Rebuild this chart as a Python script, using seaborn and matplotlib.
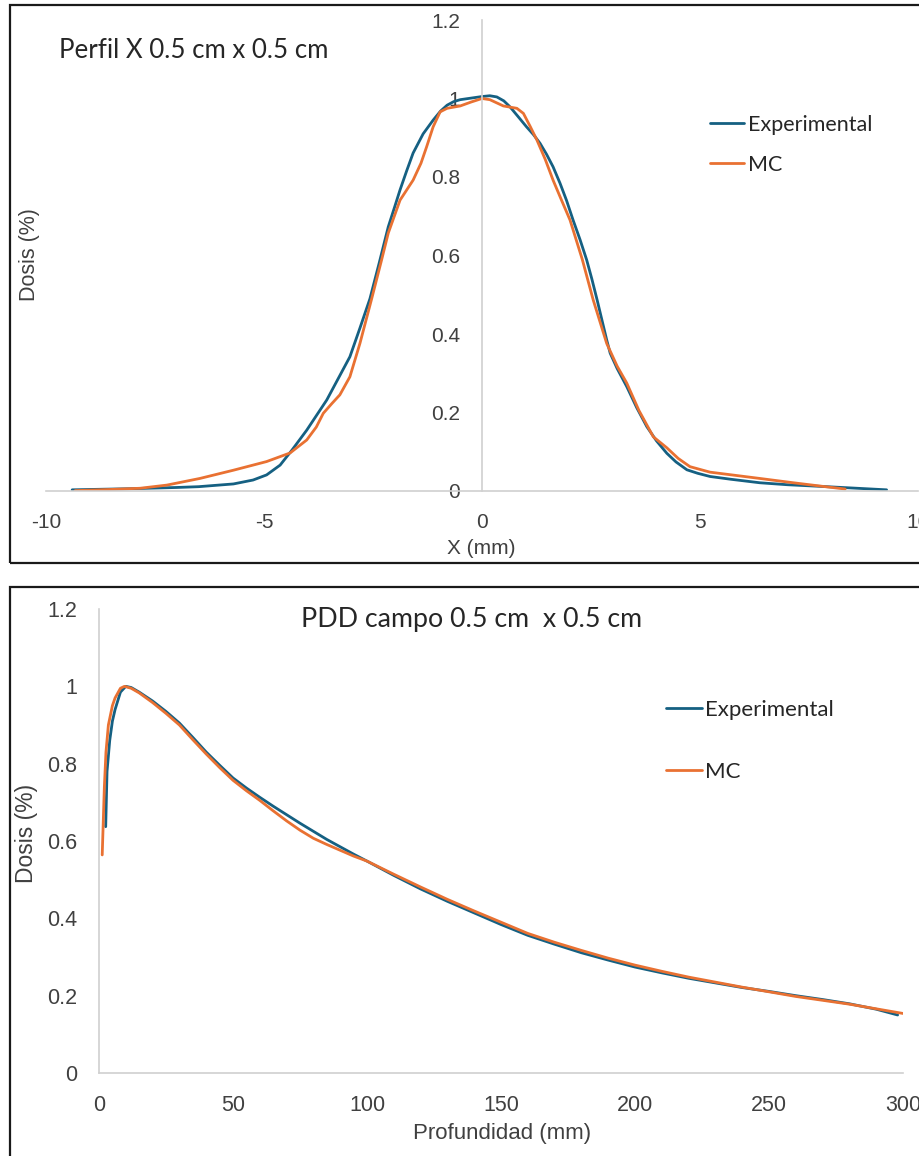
import numpy as np
import pandas as pd
import matplotlib
matplotlib.use("Agg")
import matplotlib.pyplot as plt
from matplotlib.patches import Rectangle
from matplotlib.ticker import FormatStrFormatter
import seaborn as sns

# ---------------- data: lateral profile ----------------
prof_exp_x = [-9.4, -8.0, -7.0, -6.5, -5.7, -5.25, -4.94, -4.63, -4.36, -4.02, -3.56, -3.03, -2.8,
              -2.57, -2.36, -2.15, -2.0, -1.88, -1.73, -1.58, -1.35, -1.12, -0.95, -0.80, -0.65,
              -0.50, -0.25, 0.0, 0.18, 0.34, 0.5, 0.64, 0.82, 1.02, 1.18, 1.33, 1.48,
              1.63, 1.79, 1.94, 2.09, 2.25, 2.40, 2.52, 2.64, 2.86, 2.94, 3.1, 3.32, 3.55, 3.78,
              4.0, 4.24, 4.45, 4.70, 4.95, 5.23, 5.7, 6.37, 7.0, 7.91, 8.6, 9.28]
prof_exp_y = [0.003, 0.006, 0.009, 0.011, 0.018, 0.028, 0.041, 0.066, 0.104, 0.155, 0.232, 0.342, 0.415,
              0.490, 0.580, 0.673, 0.725, 0.767, 0.815, 0.861, 0.910, 0.945, 0.968, 0.983, 0.992,
              0.997, 1.001, 1.005, 1.007, 1.004, 0.994, 0.979, 0.955, 0.928, 0.908, 0.886, 0.858,
              0.826, 0.784, 0.740, 0.690, 0.640, 0.589, 0.540, 0.487, 0.385, 0.351, 0.312, 0.266, 0.212, 0.164,
              0.128, 0.096, 0.074, 0.054, 0.045, 0.037, 0.030, 0.021, 0.016, 0.011, 0.007, 0.003]

prof_mc_x = [-9.33, -8.5, -7.84, -7.23, -6.47, -5.7, -4.94, -4.40, -4.02, -3.8, -3.64, -3.45, -3.26,
             -3.03, -2.80, -2.53, -2.3, -2.15, -1.88, -1.58, -1.4, -1.27, -1.12, -0.96, -0.80,
             -0.50, -0.25, 0.0, 0.18, 0.49, 0.80, 0.95, 1.1, 1.26, 1.45, 1.63, 1.82, 2.02,
             2.3, 2.55, 2.86, 3.1, 3.32, 3.6, 3.93, 4.24, 4.5, 4.77, 5.23, 5.8, 6.37,
             7.14, 7.8, 8.33]
prof_mc_y = [0.001, 0.004, 0.007, 0.015, 0.032, 0.053, 0.075, 0.097, 0.130, 0.163, 0.198, 0.222, 0.245,
             0.291, 0.376, 0.490, 0.590, 0.657, 0.741, 0.792, 0.835, 0.877, 0.928, 0.966, 0.975,
             0.981, 0.991, 1.000, 0.997, 0.981, 0.975, 0.962, 0.930, 0.894, 0.845, 0.792, 0.742, 0.690,
             0.590, 0.487, 0.376, 0.318, 0.275, 0.205, 0.138, 0.110, 0.083, 0.062, 0.048, 0.040, 0.032,
             0.021, 0.012, 0.005]

# ---------------- data: PDD ----------------
pdd_exp_x = [2.5, 3, 4, 5, 6, 8, 10, 12, 15, 20, 25, 30, 35, 40, 45, 50, 55, 60, 65, 70, 75, 80,
             85, 90, 95, 100, 110, 120, 130, 140, 150, 160, 170, 180, 190, 200, 210, 220, 230,
             240, 250, 260, 270, 280, 290, 298]
pdd_exp_y = [0.637, 0.78, 0.86, 0.91, 0.94, 0.985, 1.0, 0.997, 0.985, 0.962, 0.935, 0.905, 0.868,
             0.83, 0.796, 0.763, 0.737, 0.713, 0.690, 0.668, 0.646, 0.625, 0.604, 0.585, 0.566,
             0.548, 0.511, 0.476, 0.444, 0.414, 0.384, 0.356, 0.333, 0.311, 0.292, 0.274, 0.259,
             0.245, 0.233, 0.221, 0.211, 0.200, 0.190, 0.179, 0.165, 0.150]

pdd_mc_x = [1.2, 2, 2.6, 3.5, 5, 6, 8, 9.5, 12, 15, 20, 25, 30, 35, 40, 45, 50, 55, 60, 65, 70,
            75, 80, 85, 90, 95, 100, 110, 120, 130, 140, 150, 160, 170, 180, 190, 200, 210, 220,
            230, 240, 250, 260, 270, 280, 290, 300]
pdd_mc_y = [0.564, 0.74, 0.83, 0.90, 0.95, 0.97, 0.995, 1.0, 0.995, 0.983, 0.958, 0.93, 0.90,
            0.862, 0.825, 0.790, 0.757, 0.730, 0.705, 0.678, 0.652, 0.628, 0.607, 0.591, 0.576,
            0.561, 0.548, 0.514, 0.481, 0.449, 0.419, 0.390, 0.361, 0.338, 0.317, 0.297, 0.279,
            0.263, 0.248, 0.235, 0.222, 0.210, 0.198, 0.188, 0.178, 0.166, 0.154]

series_names = ["Experimental", "MC"]
colors = ["#156082", "#E97132"]
y_ticks = [0, 0.2, 0.4, 0.6, 0.8, 1.0, 1.2]
prof_xticks = [-10, -5, 0, 5, 10]
pdd_xticks = [0, 50, 100, 150, 200, 250, 300]

df_prof = pd.concat([
    pd.DataFrame({"x": prof_exp_x, "y": prof_exp_y, "Serie": series_names[0]}),
    pd.DataFrame({"x": prof_mc_x, "y": prof_mc_y, "Serie": series_names[1]}),
], ignore_index=True)
df_pdd = pd.concat([
    pd.DataFrame({"x": pdd_exp_x, "y": pdd_exp_y, "Serie": series_names[0]}),
    pd.DataFrame({"x": pdd_mc_x, "y": pdd_mc_y, "Serie": series_names[1]}),
], ignore_index=True)

sns.set_theme(style="white")
plt.rcParams["font.family"] = ["Liberation Sans", "DejaVu Sans"]
plt.rcParams["axes.unicode_minus"] = False

W, H = 920, 1156
fig = plt.figure(figsize=(W / 100, H / 100), dpi=100)

def fx(px):
    return px / W

def fy(py):
    return 1 - py / H

TICK_COLOR = "#404040"
AXIS_GRAY = "#d0d0d0"
TITLE_FONT = ["Lato", "DejaVu Sans"]

# ---------------- top: profile ----------------
ax1 = fig.add_axes([fx(46), fy(491), (918 - 46) / W, (491 - 20) / H])
sns.lineplot(data=df_prof, x="x", y="y", hue="Serie", palette=colors, estimator=None,
             sort=False, lw=2, ax=ax1, legend=True)
ax1.set_xlim(-10, 10)
ax1.set_ylim(0, 1.2)
ax1.set_xticks(prof_xticks)
ax1.set_yticks(y_ticks)
ax1.yaxis.set_major_formatter(FormatStrFormatter("%g"))
ax1.spines["left"].set_position(("data", 0))
for s in ["top", "right"]:
    ax1.spines[s].set_visible(False)
for s in ["left", "bottom"]:
    ax1.spines[s].set_color(AXIS_GRAY)
    ax1.spines[s].set_linewidth(1.2)
ax1.tick_params(axis="both", length=0, labelsize=15, labelcolor=TICK_COLOR)
ax1.tick_params(axis="y", pad=16)
ax1.tick_params(axis="x", pad=16)
ax1.set_xlabel("X (mm)", fontsize=15, color=TICK_COLOR, va="center")
ax1.xaxis.set_label_coords((481 - 46) / 872, (491 - 548) / 471)
ax1.set_ylabel("Dosis (%)", fontsize=15.5, color=TICK_COLOR, va="center")
ax1.yaxis.set_label_coords((29 - 46) / 872, (491 - 255) / 471)
ax1.set_facecolor("none")
fig.text(fx(59), fy(58), "Perfil X 0.5 cm x 0.5 cm", fontsize=18.6, family=TITLE_FONT,
         color="#262626", ha="left", va="baseline")
leg1 = ax1.legend(loc="upper left", bbox_to_anchor=(fx(710), fy(115)),
                  bbox_transform=fig.transFigure, frameon=False,
                  handlelength=1.6, handletextpad=0.15, labelspacing=0.93, borderpad=0,
                  borderaxespad=0, prop={"family": TITLE_FONT, "size": 15.5})

# ---------------- bottom: PDD ----------------
ax2 = fig.add_axes([fx(99), fy(1073), (903 - 99) / W, (1073 - 609) / H])
sns.lineplot(data=df_pdd, x="x", y="y", hue="Serie", palette=colors, estimator=None,
             sort=False, lw=2, ax=ax2, legend=True)
ax2.set_xlim(0, 300)
ax2.set_ylim(0, 1.2)
ax2.set_xticks(pdd_xticks)
ax2.set_yticks(y_ticks)
ax2.yaxis.set_major_formatter(FormatStrFormatter("%g"))
for s in ["top", "right"]:
    ax2.spines[s].set_visible(False)
for s in ["left", "bottom"]:
    ax2.spines[s].set_color(AXIS_GRAY)
    ax2.spines[s].set_linewidth(1.2)
ax2.tick_params(axis="both", length=0, labelsize=15.5, labelcolor=TICK_COLOR)
ax2.tick_params(axis="y", pad=16)
ax2.tick_params(axis="x", pad=16)
ax2.set_xlabel("Profundidad (mm)", fontsize=16, color=TICK_COLOR, va="center")
ax2.xaxis.set_label_coords((502 - 99) / 804, (1073 - 1133) / 464)
ax2.set_ylabel("Dosis (%)", fontsize=16.5, color=TICK_COLOR, va="center")
ax2.yaxis.set_label_coords((26 - 99) / 804, (1073 - 833) / 464)
ax2.set_facecolor("none")
fig.text(fx(301), fy(627), "PDD campo 0.5 cm  x 0.5 cm", fontsize=19.3, family=TITLE_FONT,
         color="#262626", ha="left", va="baseline")
leg2 = ax2.legend(loc="upper left", bbox_to_anchor=(fx(666), fy(700)),
                  bbox_transform=fig.transFigure, frameon=False,
                  handlelength=1.6, handletextpad=0.15, labelspacing=1.9, borderpad=0,
                  borderaxespad=0, prop={"family": TITLE_FONT, "size": 16})

# ---------------- chart borders ----------------
fig.add_artist(Rectangle((fx(10), fy(563)), 1.2, (563 - 5) / H, transform=fig.transFigure,
                         fill=False, lw=1.6, edgecolor="#1a1a1a"))
fig.add_artist(Rectangle((fx(10), -0.2), 1.2, fy(587) + 0.2, transform=fig.transFigure,
                         fill=False, lw=1.6, edgecolor="#1a1a1a"))

fig.savefig("out.png", dpi=100)
